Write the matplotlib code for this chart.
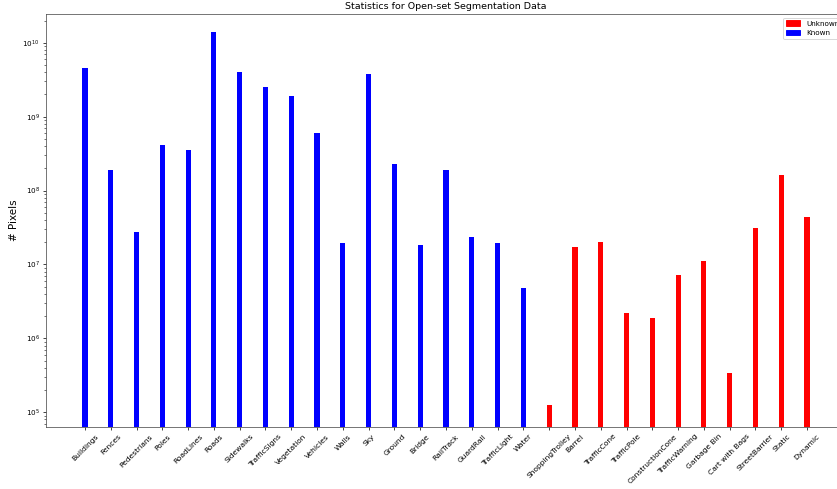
import matplotlib
matplotlib.use("Agg")
import matplotlib.pyplot as plt
from matplotlib.patches import Patch

known_classes = ["Buildings", "Fences", "Pedestrians", "Poles", "RoadLines", "Roads",
                 "Sidewalks", "TrafficSigns", "Vegetation", "Vehicles", "Walls", "Sky",
                 "Ground", "Bridge", "RailTrack", "GuardRail", "TrafficLight", "Water"]
known_pixels = [4.58e9, 1.92e8, 2.75e7, 4.19e8, 3.58e8, 1.39e10,
                4.0e9, 2.5e9, 1.93e9, 6.1e8, 1.97e7, 3.84e9,
                2.32e8, 1.81e7, 1.92e8, 2.39e7, 1.97e7, 4.79e6]

unknown_classes = ["ShoppingTrolley", "Barrel", "TrafficCone", "TrafficPole",
                   "ConstructionCone", "TrafficWarning", "Garbage Bin", "Cart with Bags",
                   "StreetBarrier", "Static", "Dynamic"]
unknown_pixels = [1.27e5, 1.72e7, 2.03e7, 2.19e6,
                  1.90e6, 7.18e6, 1.11e7, 3.41e5,
                  3.07e7, 1.64e8, 4.43e7]

labels = known_classes + unknown_classes
values = known_pixels + unknown_pixels
colors = ["blue"] * len(known_classes) + ["red"] * len(unknown_classes)

dpi = 65
fig = plt.figure(figsize=(837 / dpi, 489 / dpi), dpi=dpi)
W, H = 837.0, 489.0
ax = fig.add_axes([46 / W, 1 - 427 / H, (846 - 46) / W, (427 - 14) / H])

x = list(range(len(labels)))
ax.bar(x, values, width=0.2, color=colors, log=True)
ax.set_yscale("log")
ax.set_xlim(-1.51, len(labels) - 1 + 1.51)
ax.set_ylim(10 ** 4.8, 10 ** 10.39)

ax.set_xticks(x)
ax.set_xticklabels(labels, rotation=45, fontsize=8.3)
ax.tick_params(axis="y", labelsize=8)
ax.set_ylabel("# Pixels", fontsize=11.5)
ax.set_title("Statistics for Open-set Segmentation Data", fontsize=10.5)

for s in ax.spines.values():
    s.set_color("#444444")

handles = [Patch(color="red", label="Unknown"), Patch(color="blue", label="Known")]
ax.legend(handles=handles, loc="upper right", fontsize=8)

fig.savefig("out.png", dpi=dpi)
